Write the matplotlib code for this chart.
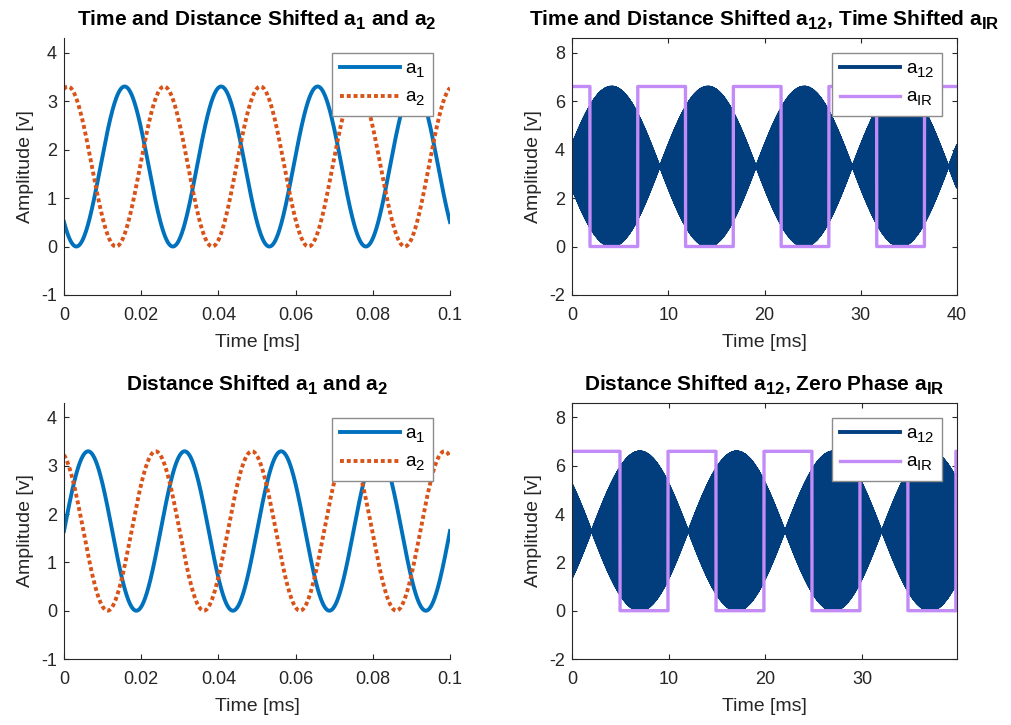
import numpy as np
import matplotlib
matplotlib.use("Agg")
import matplotlib.pyplot as plt
from matplotlib import _mathtext
from matplotlib.ticker import FuncFormatter

plt.rcParams["font.family"] = ["Liberation Sans", "DejaVu Sans"]
plt.rcParams["mathtext.fontset"] = "custom"
plt.rcParams["mathtext.rm"] = "Liberation Sans"
plt.rcParams["mathtext.bf"] = "Liberation Sans:bold"
plt.rcParams["axes.unicode_minus"] = False

# bigger, lower subscripts, closer to the TeX look
_mathtext.SHRINK_FACTOR = 0.8
_mathtext.FontConstantsBase.sub1 = 0.42

# signal parameters (kHz, ms, V)
amp = 1.65                # half of the 3.3 V swing
f1 = 40.0                 # carrier of a1
f2 = 40.1                 # carrier of a2 (100 Hz beat)
delay_shifted = [0.0157, 0.0010]     # peak delays of a1, a2, time + distance shifted
delay_distance = [0.00625, -0.0012]  # peak delays of a1, a2, distance shifted only

ir_high = 6.6
ir_low = 0.0
ir_period = [9.93, 9.92]    # ms, time shifted / zero phase
ir_first_fall = [1.86, 4.96]  # ms

zoom_end = 0.1              # ms shown in the left panels
long_end = [40.0, 39.8]     # ms shown in the right panels

titles = [
    r"Time and Distance Shifted $\mathregular{a_1}$ and $\mathregular{a_2}$",
    r"Time and Distance Shifted $\mathregular{a_{12}}$, Time Shifted $\mathregular{a_{IR}}$",
    r"Distance Shifted $\mathregular{a_1}$ and $\mathregular{a_2}$",
    r"Distance Shifted $\mathregular{a_{12}}$, Zero Phase $\mathregular{a_{IR}}$",
]

c_a1 = "#0072BD"
c_a2 = "#D95319"
c_a12 = "#023E7D"
c_ir = "#C38BF7"
c_ax = "#262626"


def tone(t, f, d):
    return amp * (1 + np.cos(2 * np.pi * f * (t - d)))


def square(t, period, first_fall):
    ph = np.mod(t - first_fall, period)
    return np.where(ph >= period / 2, ir_high, ir_low)


def style(ax, box):
    for s in ["top", "right"]:
        ax.spines[s].set_visible(box)
    for s in ax.spines.values():
        s.set_color(c_ax)
        s.set_linewidth(0.8)
    ax.tick_params(direction="in", length=3.5, width=0.8, color=c_ax,
                   labelcolor=c_ax, labelsize=13, top=box, right=box)
    ax.tick_params(axis="x", pad=9)
    ax.tick_params(axis="y", pad=5)
    ax.xaxis.set_major_formatter(FuncFormatter(lambda v, p: f"{v:g}"))
    ax.yaxis.set_major_formatter(FuncFormatter(lambda v, p: f"{v:g}"))
    ax.set_xlabel("Time [ms]", fontsize=14, color=c_ax, labelpad=7)
    ax.set_ylabel("Amplitude [v]", fontsize=14, color=c_ax, labelpad=5)


fig = plt.figure(figsize=(10.11, 7.25), dpi=100)
W, H = 1011, 725
boxes = [(64, 38, 450, 295), (572, 38, 957, 295),
         (64, 403, 450, 659), (572, 403, 957, 659)]
axs = [fig.add_axes([l / W, 1 - b / H, (r - l) / W, (b - t) / H])
       for (l, t, r, b) in boxes]

leg_kw = dict(loc="upper right", fontsize=13.5, handlelength=3.2,
              borderaxespad=0, fancybox=False, framealpha=1,
              edgecolor="#8c8c8c", borderpad=0.4, labelspacing=0.5,
              handletextpad=0.3)

# left panels: a1 and a2 over a tenth of a millisecond
t_short = np.linspace(0, zoom_end, 2001)
for ax, d in [(axs[0], delay_shifted), (axs[2], delay_distance)]:
    ax.plot(t_short, tone(t_short, f1, d[0]), color=c_a1, lw=2.8,
            label=r"$\mathregular{a_1}$")
    ax.plot(t_short, tone(t_short, f2, d[1]), color=c_a2, lw=2.8,
            linestyle=(0, (1, 0.75)), dash_capstyle="butt",
            label=r"$\mathregular{a_2}$")
    ax.set_xlim(0, zoom_end)
    ax.set_ylim(-1, 4.3)
    ax.set_yticks(np.arange(-1, 5, 1))
    ax.set_xticks(np.arange(0, 0.11, 0.02))
    style(ax, False)
    ax.legend(bbox_to_anchor=(0.956, 0.942), **leg_kw)

# right panels: summed signal a12 and the IR square wave
for k, (ax, d) in enumerate([(axs[1], delay_shifted), (axs[3], delay_distance)]):
    t_long = np.arange(0, long_end[k], 5e-4)
    a12 = tone(t_long, f1, d[0]) + tone(t_long, f2, d[1])
    ax.plot(t_long, a12, color=c_a12, lw=1.2, label=r"$\mathregular{a_{12}}$")
    ax.plot(t_long, square(t_long, ir_period[k], ir_first_fall[k]),
            color=c_ir, lw=2.4, label=r"$\mathregular{a_{IR}}$")
    ax.set_xlim(0, long_end[k])
    ax.set_ylim(-2, 8.6)
    ax.set_yticks(np.arange(-2, 9, 2))
    ax.set_xticks(np.arange(0, long_end[k] + 0.01, 10))
    style(ax, True)
    leg = ax.legend(bbox_to_anchor=(0.960, 0.942), **leg_kw)
    leg.legend_handles[0].set_linewidth(2.8)

for ax, ttl in zip(axs, titles):
    ax.set_title(ttl, fontsize=15, fontweight="bold", pad=9)

fig.savefig("out.png", dpi=100)
